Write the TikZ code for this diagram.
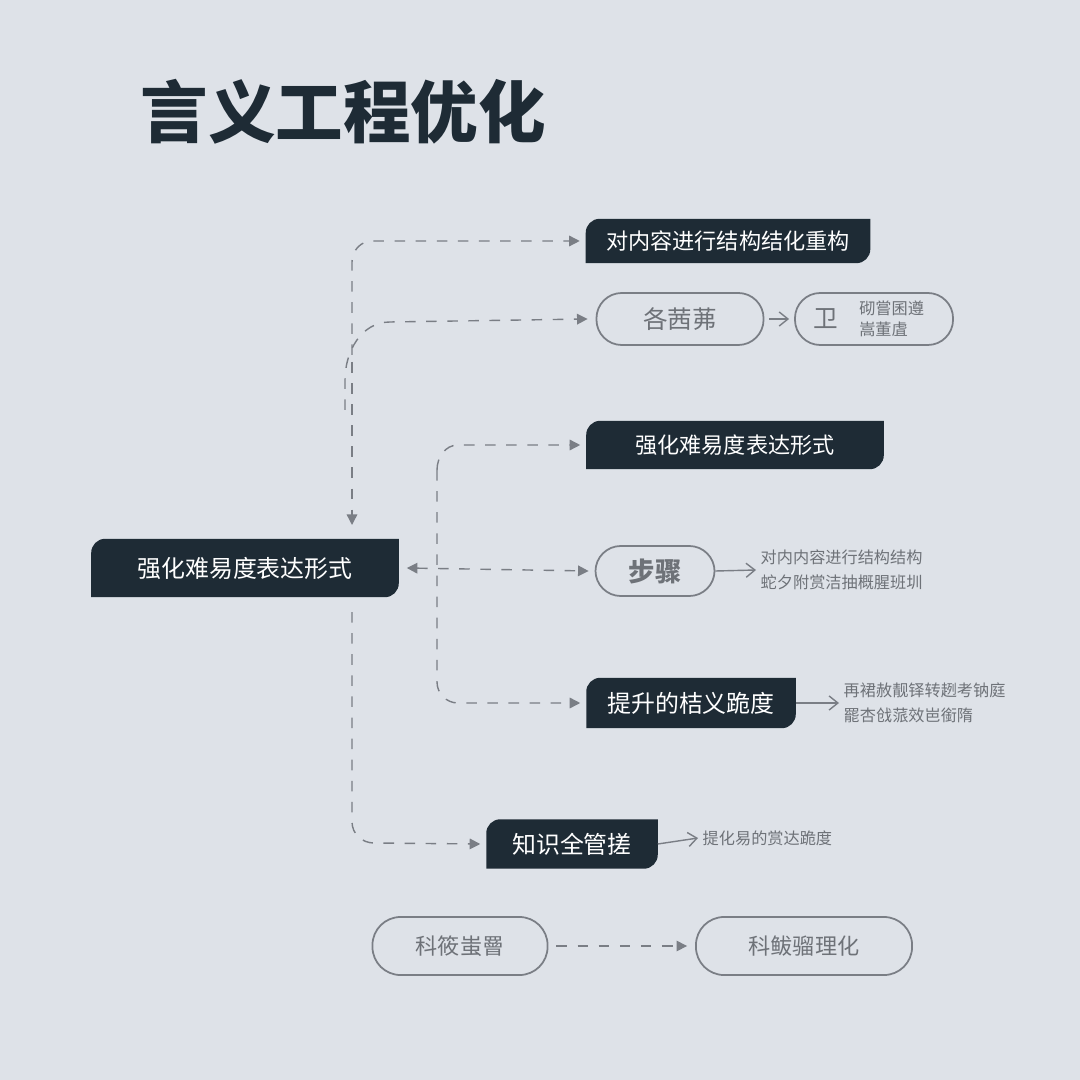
\documentclass[tikz,border=0pt]{standalone}
\usepackage{fontspec}
\setmainfont{Noto Sans CJK SC}
\newfontfamily\cjk{Noto Sans CJK SC}
\usetikzlibrary{arrows.meta,backgrounds}
\definecolor{bgcol}{HTML}{DEE2E8}
\definecolor{darkcol}{HTML}{1E2B35}
\definecolor{linecol}{HTML}{7A7E85}
\definecolor{textcol}{HTML}{6E7278}
\tikzset{
  darktag/.style={text=white,font=\cjk\fontsize{6.3}{8}\selectfont,inner sep=0pt},
  pill/.style={draw=linecol,line width=0.5pt,rounded corners=7.2pt,text=textcol,
    font=\cjk\fontsize{6.3}{8}\selectfont,inner sep=0pt},
  note/.style={text=textcol,font=\cjk\fontsize{4.6}{7}\selectfont,align=left,anchor=west,inner sep=0pt},
  dashlink/.style={draw=linecol,dashed,line width=0.4pt,-{Triangle[length=3pt,width=3pt]}},
  solidlink/.style={draw=linecol,line width=0.4pt,-{Straight Barb[length=2.5pt,width=4pt]}}
}
% dark tag: rounded top-left and bottom-right
\newcommand{\tagfill}[1]{%
  \begin{scope}[on background layer]
    \fill[darkcol] (#1.south west) -- ([yshift=-0.14cm]#1.north west)
      arc[start angle=180,end angle=90,radius=0.14cm] -- (#1.north east)
      -- ([yshift=0.14cm]#1.south east) arc[start angle=0,end angle=-90,radius=0.14cm] -- cycle;
  \end{scope}}
\begin{document}
\begin{tikzpicture}[x=0.01cm,y=-0.01cm]
  \begin{scope}[on background layer]
    \fill[bgcol] (0,0) rectangle (1080,1080);
  \end{scope}
  \useasboundingbox (0,0) rectangle (1080,1080);

  %%%% Title %%%%%%%%%%%%%%%%%%%%%%%%%%%%%%%%%%%%%%%%%%%%%%%%%%%%%%%%%%%
  \node[anchor=west,text=darkcol,font=\cjk\bfseries\fontsize{19.2}{20}\selectfont,inner sep=0pt]
    (title) at (140,112) {言义工程优化};

  %%%% Dark tags %%%%%%%%%%%%%%%%%%%%%%%%%%%%%%%%%%%%%%%%%%%%%%%%%%%%%%
  \node[darktag,minimum width=2.83cm,minimum height=0.43cm] (restruct) at (728,241) {对内容进行结构结化重构};
  \node[darktag,minimum width=2.96cm,minimum height=0.47cm] (express) at (735,445) {强化难易度表达形式};
  \node[darktag,minimum width=3.06cm,minimum height=0.57cm,font=\cjk\fontsize{6.8}{8}\selectfont] (main) at (245,568) {强化难易度表达形式};
  \node[darktag,minimum width=2.08cm,minimum height=0.49cm,font=\cjk\fontsize{6.8}{8}\selectfont] (raise) at (691,703) {提升的桔义跪度};
  \node[darktag,minimum width=1.70cm,minimum height=0.48cm,font=\cjk\fontsize{6.8}{8}\selectfont] (manage) at (572,844) {知识全管搓};
  \tagfill{restruct} \tagfill{express} \tagfill{main} \tagfill{raise} \tagfill{manage}

  %%%% Outline pills %%%%%%%%%%%%%%%%%%%%%%%%%%%%%%%%%%%%%%%%%%%%%%%%%%%
  \node[pill,minimum width=1.67cm,minimum height=0.52cm,font=\cjk\fontsize{7}{8}\selectfont] (each) at (680,319) {各茜茀};
  \node[pill,minimum width=1.58cm,minimum height=0.52cm,font=\cjk\fontsize{4.6}{6}\selectfont,align=left]
    (icon) at (874,319) {\hspace{10pt}砌嘗囷遵\\\hspace{10pt}嵩董虘};
  \node[text=textcol,font=\cjk\fontsize{7}{8}\selectfont,inner sep=0pt] (glyph) at (826,319) {卫};
  \node[pill,minimum width=1.19cm,minimum height=0.50cm,font=\cjk\bfseries\fontsize{7.5}{9}\selectfont] (steps) at (655,571) {步骤};
  \node[pill,minimum width=1.75cm,minimum height=0.58cm,rounded corners=8pt] (sci) at (460,946) {科筱蚩罾};
  \node[pill,minimum width=2.16cm,minimum height=0.58cm,rounded corners=8pt] (sciopt) at (804,946) {科鲅骝理化};

  %%%% Notes %%%%%%%%%%%%%%%%%%%%%%%%%%%%%%%%%%%%%%%%%%%%%%%%%%%%%%%%%%%
  \node[note] (stepsnote) at (760,570) {对内内容进行结构结构\\蛇夕附赏洁抽概腥班圳};
  \node[note] (raisenote) at (843,703) {再裙赦靓铎转趔考钠庭\\罷杏戗蒎效岜銜隋};
  \node[note] (managenote) at (702,838) {提化易的赏达跪度};

  %%%% Connectors %%%%%%%%%%%%%%%%%%%%%%%%%%%%%%%%%%%%%%%%%%%%%%%%%%%%%%
  \coordinate (topa) at (352,355);
  \coordinate (topb) at (345,410);
  \coordinate (midc) at (437,470);
  \draw[dashlink] (topa) -- (352,262) to[out=90,in=180] (372,241) -- ([xshift=-0.06cm]restruct.west);
  \draw[dashlink] (topb) -- (345,380) to[out=90,in=180] (390,322) -- ([xshift=-0.08cm]each.west);
  \draw[dashlink] (352,362) -- (352,525);
  \draw[dashlink] (midc) to[out=90,in=180] (458,445) -- ([xshift=-0.06cm]express.west);
  \draw[dashlink] (midc) -- (437,682) to[out=-90,in=180] (458,703) -- ([xshift=-0.06cm]raise.west);
  \draw[dashlink] (352,612) -- (352,822) to[out=-90,in=180] (374,843) -- ([xshift=-0.06cm]manage.west);
  \draw[dashlink,{Triangle[length=3pt,width=3pt]}-{Triangle[length=3pt,width=3pt]}]
    ([xshift=0.08cm]main.east) -- ([xshift=-0.06cm]steps.west);
  \draw[dashlink] ([xshift=0.08cm]sci.east) -- ([xshift=-0.08cm]sciopt.west);
  \draw[solidlink] ([xshift=0.05cm]each.east) -- ([xshift=-0.05cm]icon.west);
  \draw[solidlink] (steps.east) -- ([xshift=-0.04cm]stepsnote.west);
  \draw[solidlink] (raise.east) -- ([xshift=-0.04cm]raisenote.west);
  \draw[solidlink] (manage.east) -- ([xshift=-0.04cm]managenote.west);
\end{tikzpicture}
\end{document}
